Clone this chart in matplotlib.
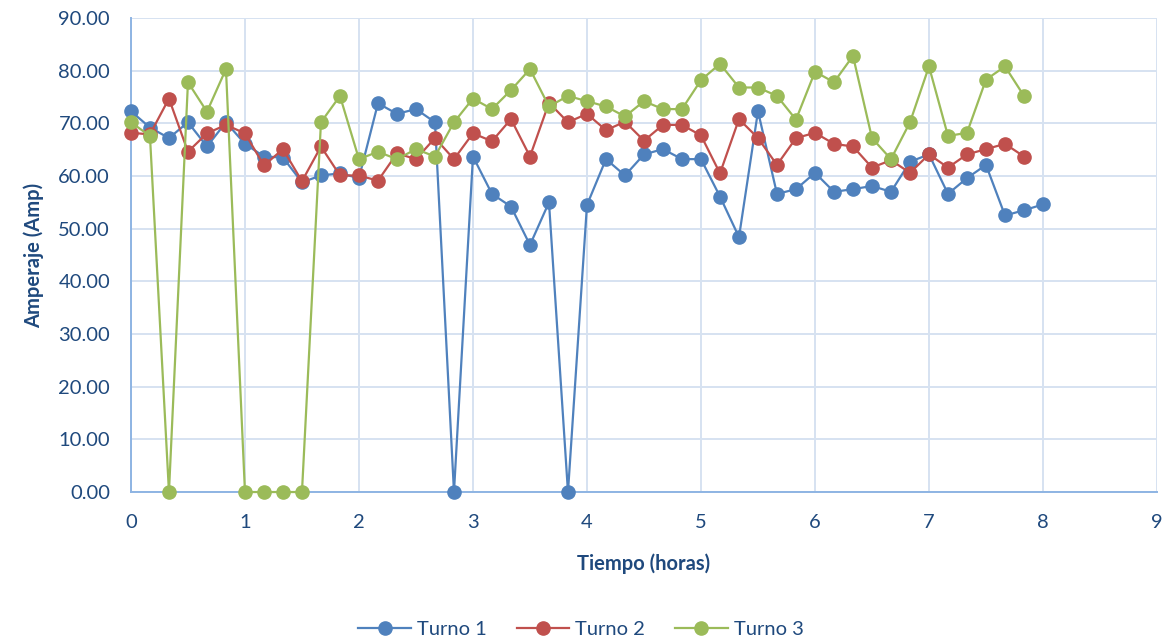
import matplotlib
matplotlib.use("Agg")
import matplotlib.pyplot as plt
import numpy as np

plt.rcParams['font.family'] = ['Lato', 'DejaVu Sans']

# tiempo cada 10 minutos
turno1 = [72.3, 69.2, 67.2, 70.2, 65.6, 70.2,
          66.1, 63.7, 63.5, 58.8, 60.1, 60.5,
          59.6, 73.8, 71.8, 72.7, 70.2, 0.0,
          63.7, 56.6, 54.2, 46.9, 55.0, 0.0,
          54.5, 63.2, 60.1, 64.1, 65.1, 63.2,
          63.2, 56.1, 48.4, 72.3, 56.6, 57.5,
          60.6, 57.0, 57.5, 58.1, 57.0, 62.7,
          64.1, 56.6, 59.6, 62.1, 52.5, 53.5,
          54.6]
turno2 = [68.2, 67.9, 74.7, 64.6, 68.1, 69.7,
          68.1, 62.0, 65.1, 59.0, 65.6, 60.1,
          60.1, 59.1, 64.3, 63.2, 67.2, 63.2,
          68.1, 66.6, 70.8, 63.7, 73.9, 70.2,
          71.8, 68.7, 70.3, 66.7, 69.7, 69.7,
          67.7, 60.5, 70.8, 67.2, 62.1, 67.2,
          68.2, 66.1, 65.6, 61.6, 63.0, 60.6,
          64.1, 61.6, 64.1, 65.1, 66.1, 63.7]
turno3 = [70.2, 67.6, 0.0, 77.8, 72.2, 80.3,
          0.0, 0.0, 0.0, 0.0, 70.2, 75.2,
          63.2, 64.6, 63.2, 65.1, 63.7, 70.2,
          74.7, 72.7, 76.3, 80.3, 73.2, 75.2,
          74.2, 73.2, 71.3, 74.2, 72.7, 72.7,
          78.2, 81.3, 76.8, 76.8, 75.2, 70.7,
          79.8, 77.8, 82.8, 67.2, 63.2, 70.2,
          80.8, 67.6, 68.2, 78.3, 80.8, 75.2]

series = [("Turno 1", turno1, "#4F81BD"),
          ("Turno 2", turno2, "#C0504D"),
          ("Turno 3", turno3, "#9BBB59")]

txt = "#1F497D"

fig = plt.figure(figsize=(11.62, 6.42), dpi=100)
ax = fig.add_axes([0.1127, 0.2336, 0.883, 0.7384])

for name, vals, col in series:
    t = np.arange(len(vals)) / 6.0
    ax.plot(t, vals, color=col, lw=1.6, marker='o', ms=9.5,
            markeredgecolor=col, label=name, clip_on=False, zorder=3)

ax.set_xlim(0, 9)
ax.set_ylim(0, 90)
ax.set_xticks(range(10))
ax.set_yticks(np.arange(0, 91, 10))
ax.set_yticklabels([f"{v:.2f}" for v in np.arange(0, 91, 10)])
ax.grid(True, color="#D6E2F1", lw=1.4, zorder=0)
ax.set_axisbelow(True)
ax.tick_params(length=0, labelsize=14.5, colors=txt)
ax.tick_params(axis='x', pad=16)
ax.tick_params(axis='y', pad=15)
for s in ["top", "right"]:
    ax.spines[s].set_visible(False)
for s in ["left", "bottom"]:
    ax.spines[s].set_color("#8EB4E3")
    ax.spines[s].set_linewidth(1.4)

ax.set_xlabel("Tiempo (horas)", fontsize=14.5, fontweight='bold', color=txt, labelpad=16)
ax.set_ylabel("Amperaje (Amp)", fontsize=14.5, fontweight='bold', color=txt, labelpad=10)

leg = fig.legend(loc='center', bbox_to_anchor=(0.5, 0.02), ncol=3,
                 frameon=False, fontsize=14.5, handlelength=2.6,
                 handletextpad=0.3, columnspacing=1.5)
for t in leg.get_texts():
    t.set_color(txt)

fig.savefig("out.png", dpi=100)
